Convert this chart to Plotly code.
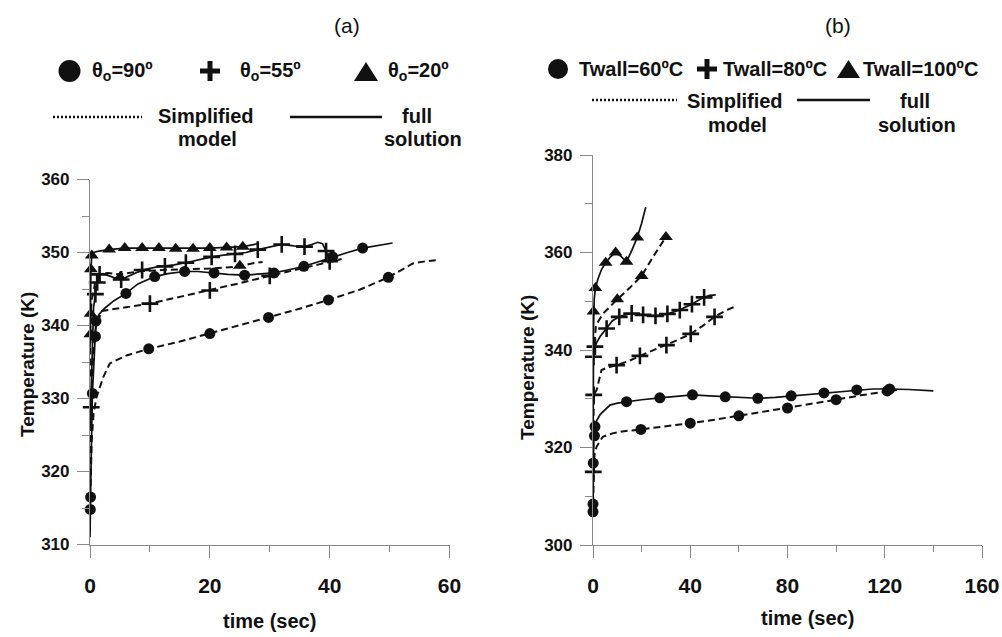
import plotly.graph_objects as go

W, H = 1002, 637

# ---------------- Panel (a): contact angle ----------------
a90_full_t = [0, 0.05, 0.1, 0.2, 0.4, 0.7, 0.9, 1.0, 1.5, 2.5, 4, 6, 8, 10.8, 13, 15.8, 18, 20.7, 23, 25.8, 28, 30.7, 33, 35.7, 38, 40.5, 43, 45.5, 48, 50.5]
a90_full_T = [311, 314.8, 316.5, 322, 330.7, 336.5, 338.5, 340.6, 341.5, 342.4, 343.4, 344.4, 345.7, 346.7, 347.1, 347.4, 347.4, 347.2, 347.0, 346.9, 347.0, 347.2, 347.6, 348.1, 348.7, 349.4, 350.0, 350.6, 351.0, 351.3]
a90_full_mk_t = [0.05, 0.1, 0.4, 0.9, 1.0, 6, 10.8, 15.8, 20.7, 25.8, 30.7, 35.7, 40.5, 45.5]
a90_full_mk_T = [314.8, 316.5, 330.7, 338.5, 340.6, 344.4, 346.7, 347.4, 347.2, 346.9, 347.2, 348.1, 349.4, 350.6]

a90_simp_t = [0.1, 0.28, 0.6, 1.1, 2.2, 3.3, 6.1, 9.8, 15, 20, 25, 29.8, 35, 39.8, 45, 49.8, 52, 53.9, 56, 58.3]
a90_simp_T = [318, 324.2, 328, 330.2, 332.9, 334.8, 335.9, 336.8, 337.8, 338.9, 340.0, 341.1, 342.3, 343.5, 344.9, 346.6, 347.6, 348.5, 348.8, 349.0]
a90_simp_mk_t = [9.8, 20, 29.8, 39.8, 49.8]
a90_simp_mk_T = [336.8, 338.9, 341.1, 343.5, 346.6]

a55_full_t = [0, 0.3, 0.6, 0.9, 1.2, 1.6, 2.2, 3.2, 4.5, 5.2, 6.5, 8.7, 11, 12.5, 14, 16, 18, 20.3, 22, 24.2, 26, 28, 30, 32, 34, 35.8, 37, 38, 38.8, 39.4, 40]
a55_full_T = [326, 336, 342.5, 344.3, 345.9, 347.0, 347.1, 346.8, 346.4, 346.3, 346.8, 347.6, 348.0, 348.1, 348.3, 348.6, 349.0, 349.4, 349.6, 349.8, 350.0, 350.4, 350.8, 351.1, 350.9, 350.8, 351.1, 351.4, 351.2, 350.2, 348.9]
a55_full_mk_t = [0.9, 1.2, 1.6, 5.2, 8.7, 12.5, 16, 20.3, 24.2, 28, 32, 35.8, 39.4]
a55_full_mk_T = [344.3, 345.9, 347.0, 346.3, 347.6, 348.1, 348.6, 349.4, 349.8, 350.4, 351.1, 350.8, 350.2]

a55_simp_t = [0, 0.2, 0.5, 1.0, 2.0, 4, 6, 10, 15, 20, 25, 30, 35, 40, 42]
a55_simp_T = [318, 328.8, 336, 340.0, 342.0, 342.3, 342.5, 343.0, 343.9, 344.8, 345.8, 346.8, 347.8, 348.8, 349.1]
a55_simp_mk_t = [0.2, 10, 20, 30, 40]
a55_simp_mk_T = [328.8, 343.0, 344.8, 346.8, 348.8]

a20_full_t = [0, 0.05, 0.15, 0.3, 0.6, 1.5, 3.2, 5.8, 8.7, 11.5, 14.3, 17.2, 20, 22.8, 25.5, 28]
a20_full_T = [337, 338.8, 347.7, 349.6, 350.0, 350.2, 350.4, 350.6, 350.6, 350.6, 350.5, 350.5, 350.6, 350.7, 350.8, 351.2]
a20_full_mk_t = [0.05, 0.15, 0.3, 3.2, 5.8, 8.7, 11.5, 14.3, 17.2, 20, 22.8, 25.5]
a20_full_mk_T = [338.8, 347.7, 349.6, 350.4, 350.6, 350.6, 350.6, 350.5, 350.5, 350.6, 350.7, 350.8]

a20_simp_t = [0, 0.1, 0.3, 0.6, 1.0, 1.7, 3, 5, 8, 12, 16, 20, 25, 27, 28.8]
a20_simp_T = [333, 341.6, 343.5, 345.0, 346.4, 347.1, 347.2, 347.0, 347.4, 347.6, 347.7, 347.8, 348.1, 348.5, 348.7]
a20_simp_mk_t = [0.1, 5, 25]
a20_simp_mk_T = [341.6, 346.6, 348.2]

# ---------------- Panel (b): wall temperature ----------------
b100_full_t = [0, 0.2, 0.5, 1, 2, 3.5, 5.2, 7, 9.3, 11.5, 13.8, 16, 18.2, 20, 21.7]
b100_full_T = [340, 347.9, 350.5, 352.7, 354.5, 356.5, 357.9, 359.0, 360.0, 359.2, 358.1, 360.5, 363.1, 366.0, 369.3]
b100_full_mk_t = [0.2, 1, 5.2, 9.3, 13.8, 18.2]
b100_full_mk_T = [347.9, 352.7, 357.9, 360.0, 358.1, 363.1]

b100_simp_t = [0.3, 1.2, 4.2, 7, 10, 15, 20, 24.7, 30]
b100_simp_T = [339, 345.1, 347.5, 349.0, 350.4, 352.7, 355.2, 359.1, 363.2]
b100_simp_mk_t = [10, 20, 30]
b100_simp_mk_T = [350.4, 355.2, 363.2]

b80_full_t = [0, 0.2, 0.8, 1.5, 3, 5.6, 8, 10.8, 13, 15.9, 18, 20.6, 23, 25.7, 28, 30.6, 33, 35.7, 38, 40.7, 43, 45.7, 48, 50.5]
b80_full_T = [318, 338.6, 340.7, 341.5, 342.8, 344.4, 346.0, 346.8, 347.2, 347.5, 347.4, 347.2, 347.0, 347.0, 347.1, 347.4, 347.7, 348.2, 348.8, 349.4, 350.1, 350.8, 351.2, 351.3]
b80_full_mk_t = [0.2, 0.8, 5.6, 10.8, 15.9, 20.6, 25.7, 30.6, 35.7, 40.7, 45.7]
b80_full_mk_T = [338.6, 340.7, 344.4, 346.8, 347.5, 347.2, 347.0, 347.4, 348.2, 349.4, 350.8]

b80_simp_t = [0, 0.1, 0.3, 1.5, 3.5, 6, 9.7, 15, 19.3, 25, 30.2, 35, 40.2, 45, 50, 55, 59]
b80_simp_T = [313, 315.0, 330.8, 331.8, 335.9, 336.4, 336.9, 337.8, 338.8, 340.0, 341.0, 342.1, 343.3, 344.9, 346.8, 348.2, 349.0]
b80_simp_mk_t = [0.1, 0.3, 9.7, 19.3, 30.2, 40.2, 50]
b80_simp_mk_T = [315.0, 330.8, 336.9, 338.8, 341.0, 343.3, 346.8]

b60_full_t = [0, 0.1, 0.3, 0.8, 1.5, 3, 5, 7, 10, 13.8, 20, 27.5, 35, 40.9, 48, 54.4, 61, 67.8, 75, 81.5, 88, 95, 102, 108.5, 115, 122, 130, 140]
b60_full_T = [306.8, 316.8, 322.4, 324.3, 325.5, 326.8, 327.8, 328.7, 329.1, 329.4, 329.8, 330.2, 330.6, 330.8, 330.6, 330.4, 330.2, 330.1, 330.3, 330.6, 330.9, 331.2, 331.5, 331.8, 332.0, 332.0, 331.9, 331.6]
b60_full_mk_t = [0, 0.1, 0.8, 13.8, 27.5, 40.9, 54.4, 67.8, 81.5, 95, 108.5, 122]
b60_full_mk_T = [306.8, 316.8, 324.3, 329.4, 330.2, 330.8, 330.4, 330.1, 330.6, 331.2, 331.8, 332.0]

b60_simp_t = [0, 0.2, 0.6, 1.5, 4, 8, 12, 19.7, 30, 40, 50, 60, 70, 80, 90, 100, 110, 121, 125]
b60_simp_T = [308.4, 315, 318.5, 320.2, 322.2, 322.9, 323.3, 323.7, 324.3, 325.0, 325.7, 326.5, 327.3, 328.1, 328.9, 329.8, 330.7, 331.6, 331.8]
b60_simp_mk_t = [0, 0.6, 19.7, 40, 60, 80, 100, 121]
b60_simp_mk_T = [308.4, 322.4, 323.7, 325.0, 326.5, 328.1, 329.8, 331.6]

# ---------------- helpers ----------------
INK = "#111111"
AXC = "#8a8a8a"
FONT = "Liberation Sans"


def px(x):
    return x / W


def py(y):
    return 1 - y / H


fig = go.Figure()

SYM = {"circle": dict(symbol="circle", size=11, color=INK),
       "triangle": dict(symbol="triangle-up", size=12, color=INK),
       "cross": dict(symbol="cross-thin", size=12, color=INK, line=dict(width=2.6, color=INK))}


def add_series(xa, ya, t, T, dash, mt, mT, sym):
    fig.add_trace(go.Scatter(x=t, y=T, mode="lines", xaxis=xa, yaxis=ya,
                             line=dict(color=INK, width=2 if dash else 1.7,
                                       dash="7px,4px" if dash else "solid"),
                             cliponaxis=False, showlegend=False, hoverinfo="skip"))
    fig.add_trace(go.Scatter(x=mt, y=mT, mode="markers", xaxis=xa, yaxis=ya,
                             marker=SYM[sym], cliponaxis=False, showlegend=False,
                             hoverinfo="skip"))


add_series("x", "y", a90_simp_t, a90_simp_T, True, a90_simp_mk_t, a90_simp_mk_T, "circle")
add_series("x", "y", a55_simp_t, a55_simp_T, True, a55_simp_mk_t, a55_simp_mk_T, "cross")
add_series("x", "y", a20_simp_t, a20_simp_T, True, a20_simp_mk_t, a20_simp_mk_T, "triangle")
add_series("x", "y", a90_full_t, a90_full_T, False, a90_full_mk_t, a90_full_mk_T, "circle")
add_series("x", "y", a55_full_t, a55_full_T, False, a55_full_mk_t, a55_full_mk_T, "cross")
add_series("x", "y", a20_full_t, a20_full_T, False, a20_full_mk_t, a20_full_mk_T, "triangle")

add_series("x2", "y2", b60_simp_t, b60_simp_T, True, b60_simp_mk_t, b60_simp_mk_T, "circle")
add_series("x2", "y2", b80_simp_t, b80_simp_T, True, b80_simp_mk_t, b80_simp_mk_T, "cross")
add_series("x2", "y2", b100_simp_t, b100_simp_T, True, b100_simp_mk_t, b100_simp_mk_T, "triangle")
add_series("x2", "y2", b60_full_t, b60_full_T, False, b60_full_mk_t, b60_full_mk_T, "circle")
add_series("x2", "y2", b80_full_t, b80_full_T, False, b80_full_mk_t, b80_full_mk_T, "cross")
add_series("x2", "y2", b100_full_t, b100_full_T, False, b100_full_mk_t, b100_full_mk_T, "triangle")


def xax(domain, rng, dtick, mdtick, anchor):
    return dict(domain=domain, range=rng, anchor=anchor, showline=True, linecolor=AXC,
                linewidth=1.2, showgrid=False, zeroline=False, ticks="outside",
                ticklen=12, tickwidth=1.2, tickcolor=AXC, tick0=0, dtick=dtick,
                minor=dict(dtick=mdtick, ticks="outside", ticklen=6, tickwidth=1.2,
                           tickcolor=AXC, showgrid=False),
                tickfont=dict(family=FONT, size=21, color=INK, weight="bold"),
                ticklabelstandoff=10, automargin=False, fixedrange=True)


def yax(domain, rng, dtick, mdtick, anchor):
    return dict(domain=domain, range=rng, anchor=anchor, showline=True, linecolor=AXC,
                linewidth=1.2, showgrid=False, zeroline=False, ticks="outside",
                ticklen=12, tickwidth=1.2, tickcolor=AXC, tick0=rng[0], dtick=dtick,
                minor=dict(dtick=mdtick, ticks="outside", ticklen=7, tickwidth=1.2,
                           tickcolor=AXC, showgrid=False),
                tickfont=dict(family=FONT, size=17, color=INK, weight="bold"),
                ticklabelstandoff=4, automargin=False, fixedrange=True)


fig.update_layout(
    width=W, height=H, margin=dict(l=0, r=0, t=0, b=0),
    paper_bgcolor="white", plot_bgcolor="white", showlegend=False,
    xaxis=xax([px(90), px(449.5)], [0, 60], 20, 10, "y"),
    yaxis=yax([py(544.5), py(179.5)], [310, 360], 10, 5, "x"),
    xaxis2=xax([px(593), px(982)], [0, 160], 40, 20, "y2"),
    yaxis2=yax([py(545), py(155)], [300, 380], 20, 10, "x2"),
)

ann = []


def txt(x, y, s, size=20, bold=True, xanchor="center", angle=0):
    ann.append(dict(x=px(x), y=py(y), xref="paper", yref="paper", text=s, showarrow=False,
                    xanchor=xanchor, yanchor="middle", textangle=angle,
                    font=dict(family=FONT, size=size, color=INK,
                              weight="bold" if bold else "normal")))


# titles
txt(347, 25, "(a)", size=21, bold=False)
txt(838, 25, "(b)", size=21, bold=False)
txt(27, 365, "Temperature (K)", size=19, angle=-90)
txt(527, 368, "Temperature (K)", size=19, angle=-90)
txt(269, 621, "time (sec)", size=20)
txt(807, 618, "time (sec)", size=20)

# legend texts panel a
txt(90, 72, "θ<sub>o</sub>=90º", xanchor="left")
txt(238, 72, "θ<sub>o</sub>=55º", xanchor="left")
txt(386, 72, "θ<sub>o</sub>=20º", xanchor="left")
txt(206, 116, "Simplified")
txt(207, 139, "model")
txt(417, 116, "full")
txt(423, 139, "solution")
# legend texts panel b
txt(577, 69, "Twall=60ºC", xanchor="left")
txt(721, 69, "Twall=80ºC", xanchor="left")
txt(861, 69, "Twall=100ºC", xanchor="left")
txt(735, 101, "Simplified")
txt(737, 125, "model")
txt(915, 101, "full")
txt(917, 125, "solution")

shapes = []


def circle(cx, cy, r):
    shapes.append(dict(type="circle", xref="paper", yref="paper", x0=px(cx - r), x1=px(cx + r),
                       y0=py(cy + r), y1=py(cy - r), fillcolor=INK, line=dict(width=0)))


def plus(cx, cy, s, w):
    shapes.append(dict(type="rect", xref="paper", yref="paper", x0=px(cx - s / 2), x1=px(cx + s / 2),
                       y0=py(cy + w / 2), y1=py(cy - w / 2), fillcolor=INK, line=dict(width=0)))
    shapes.append(dict(type="rect", xref="paper", yref="paper", x0=px(cx - w / 2), x1=px(cx + w / 2),
                       y0=py(cy + s / 2), y1=py(cy - s / 2), fillcolor=INK, line=dict(width=0)))


def tri(x0, x1, ytop, ybot):
    xm = (x0 + x1) / 2
    path = f"M {px(x0)},{py(ybot)} L {px(x1)},{py(ybot)} L {px(xm)},{py(ytop)} Z"
    shapes.append(dict(type="path", xref="paper", yref="paper", path=path, fillcolor=INK,
                       line=dict(width=0)))


def hline(x0, x1, y, dash):
    shapes.append(dict(type="line", xref="paper", yref="paper", x0=px(x0), x1=px(x1), y0=py(y), y1=py(y),
                       line=dict(color=INK, width=2.5 if dash else 2.4, dash="2px,2px" if dash else "solid")))


circle(69.5, 71, 11)
plus(210, 71, 20, 5)
tri(354, 378, 62, 81)
hline(53, 142, 117, True)
hline(290, 382, 117, False)

circle(558, 69, 10)
plus(707, 69, 20, 5)
tri(837, 860, 60, 78)
hline(592, 677, 100, True)
hline(797, 870, 100, False)

fig.update_layout(annotations=ann, shapes=shapes)

fig.write_html("out.html", config={"displayModeBar": False},
               post_script="document.body.style.margin='0';document.body.style.overflow='hidden';")
